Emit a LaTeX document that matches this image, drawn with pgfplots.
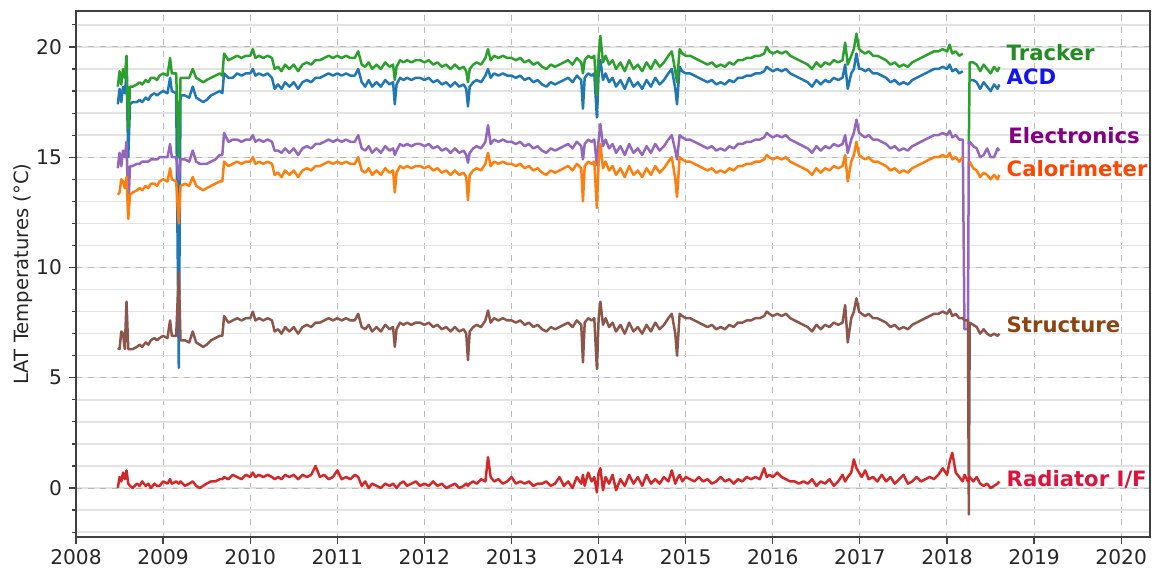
\documentclass[border=0pt]{standalone}
\usepackage{fontspec}
\setmainfont{DejaVu Sans}
\usepackage{pgfplots}
\usepackage{pgfplotstable}
\pgfplotsset{compat=1.18}

\definecolor{tabblue}{HTML}{1F77B4}
\definecolor{taborange}{HTML}{FF7F0E}
\definecolor{tabgreen}{HTML}{2CA02C}
\definecolor{tabred}{HTML}{D62728}
\definecolor{tabpurple}{HTML}{9467BD}
\definecolor{tabbrown}{HTML}{8C564B}
\definecolor{lblgreen}{HTML}{228B22}
\definecolor{lblblue}{HTML}{1414F0}
\definecolor{lblpurple}{HTML}{800080}
\definecolor{lblorange}{HTML}{FF4500}
\definecolor{lblbrown}{HTML}{8B4513}
\definecolor{lblred}{HTML}{DC143C}

% t = year, T = Tracker, A = ACD, E = Electronics, C = Calorimeter, S = Structure, R = Radiator I/F
\pgfplotstableread{
t T A E C S R
2008.48 18.2 17.4 14.5 13.3 6.35 0.0
2008.50 18.9 18.1 15.2 13.4 6.3 0.5
2008.52 18.3 17.5 14.6 14.0 7.1 0.3
2008.54 19.0 18.2 15.3 13.9 7.0 0.7
2008.56 18.6 17.9 15.0 13.6 6.3 0.4
2008.58 19.6 18.8 15.7 14.1 8.45 0.8
2008.60 16.3 15.0 12.6 12.2 6.3 0.2
2008.62 18.2 17.4 14.6 13.3 6.3 0.1
2008.65 18.2 17.5 14.6 13.4 6.3 0.0
2008.70 18.3 17.5 14.7 13.5 6.4 0.2
2008.73 18.4 17.6 14.7 13.6 6.5 0.1
2008.76 18.3 17.5 14.8 13.5 6.4 0.3
2008.80 18.5 17.7 14.8 13.7 6.6 0.1
2008.83 18.4 17.6 14.8 13.6 6.5 0.2
2008.86 18.6 17.8 14.9 13.8 6.7 0.0
2008.90 18.6 17.9 14.9 13.8 6.8 0.2
2008.93 18.5 17.8 14.9 13.7 6.7 0.1
2008.96 18.7 17.9 15.0 13.9 6.8 0.1
2009.00 18.8 18.0 15.0 14.0 6.9 0.3
2009.05 18.7 17.9 15.0 13.9 6.8 0.2
2009.08 19.5 18.6 15.6 14.5 7.6 0.4
2009.10 18.8 18.0 15.0 14.0 6.9 0.2
2009.15 18.8 17.9 15.0 13.9 6.9 0.3
2009.18 15.0 5.45 14.0 12.0 9.8 0.2
2009.20 18.6 17.8 14.9 13.7 6.7 0.3
2009.25 18.6 17.8 14.9 13.8 6.7 0.1
2009.30 18.6 17.7 14.8 13.7 6.6 0.2
2009.34 19.0 18.2 15.3 14.1 7.1 0.3
2009.38 18.6 17.7 14.8 13.7 6.6 0.1
2009.42 18.5 17.6 14.7 13.6 6.5 0.0
2009.46 18.4 17.5 14.7 13.5 6.4 0.1
2009.50 18.5 17.6 14.7 13.6 6.5 0.2
2009.55 18.6 17.8 14.8 13.7 6.7 0.3
2009.60 18.7 17.9 14.9 13.8 6.8 0.3
2009.65 18.8 18.0 15.1 13.9 6.9 0.4
2009.68 18.7 17.9 15.1 13.9 6.9 0.4
2009.70 19.7 18.8 16.1 14.8 7.8 0.5
2009.75 19.4 18.6 15.7 14.6 7.5 0.4
2009.80 19.5 18.6 15.8 14.7 7.6 0.6
2009.85 19.6 18.8 15.8 14.8 7.7 0.5
2009.90 19.5 18.7 15.7 14.7 7.6 0.4
2009.95 19.6 18.8 15.8 14.8 7.7 0.6
2010.00 19.6 18.8 15.8 14.8 7.7 0.5
2010.03 19.9 19.0 16.0 15.0 8.0 0.7
2010.06 19.5 18.7 15.7 14.7 7.6 0.5
2010.10 19.6 18.8 15.8 14.8 7.7 0.6
2010.15 19.5 18.7 15.7 14.7 7.6 0.5
2010.20 19.6 18.8 15.8 14.8 7.7 0.6
2010.25 19.5 18.6 15.7 14.7 7.6 0.5
2010.28 19.0 18.1 15.3 14.2 7.1 0.4
2010.32 19.1 18.3 15.3 14.3 7.2 0.5
2010.36 18.9 18.1 15.2 14.1 7.0 0.4
2010.40 19.2 18.4 15.4 14.4 7.3 0.6
2010.45 19.0 18.2 15.2 14.2 7.1 0.5
2010.50 19.2 18.4 15.4 14.4 7.3 0.6
2010.55 18.9 18.1 15.1 14.1 7.0 0.4
2010.60 19.2 18.4 15.4 14.4 7.3 0.6
2010.65 19.3 18.5 15.5 14.5 7.4 0.5
2010.70 19.2 18.4 15.4 14.4 7.3 0.6
2010.75 19.4 18.6 15.6 14.6 7.5 1.0
2010.80 19.4 18.6 15.6 14.6 7.5 0.5
2010.85 19.5 18.7 15.7 14.7 7.6 0.6
2010.90 19.6 18.8 15.8 14.8 7.7 0.4
2010.95 19.5 18.7 15.7 14.7 7.6 0.5
2011.00 19.6 18.8 15.8 14.8 7.7 0.8
2011.05 19.5 18.7 15.7 14.7 7.6 0.4
2011.10 19.6 18.8 15.8 14.8 7.7 0.5
2011.15 19.5 18.7 15.7 14.7 7.6 0.4
2011.20 19.5 18.7 15.7 14.7 7.6 0.6
2011.24 19.8 19.0 16.0 15.0 7.9 0.5
2011.28 19.2 18.4 15.4 14.4 7.3 0.1
2011.32 19.1 18.2 15.3 14.3 7.2 0.3
2011.36 19.3 18.5 15.5 14.5 7.4 0.0
2011.40 19.0 18.2 15.2 14.2 7.1 0.2
2011.45 19.2 18.4 15.4 14.4 7.3 0.1
2011.50 19.0 18.2 15.2 14.2 7.1 0.0
2011.55 19.3 18.5 15.5 14.5 7.4 0.2
2011.60 19.1 18.3 15.3 14.3 7.2 0.1
2011.64 19.2 18.4 15.4 14.4 7.3 0.2
2011.66 18.5 17.4 15.1 13.4 6.4 0.1
2011.68 19.1 18.3 15.3 14.3 7.2 0.0
2011.72 19.4 18.6 15.6 14.6 7.5 0.2
2011.76 19.3 18.5 15.5 14.5 7.4 0.3
2011.80 19.4 18.6 15.6 14.6 7.5 0.1
2011.85 19.3 18.5 15.5 14.5 7.4 0.2
2011.90 19.4 18.6 15.6 14.6 7.5 0.3
2011.95 19.4 18.6 15.6 14.6 7.5 0.1
2012.00 19.3 18.5 15.5 14.5 7.4 0.2
2012.05 19.4 18.6 15.6 14.6 7.5 0.1
2012.10 19.2 18.4 15.4 14.4 7.3 0.3
2012.15 19.3 18.5 15.5 14.5 7.4 0.1
2012.20 19.1 18.3 15.3 14.3 7.2 0.2
2012.25 19.2 18.4 15.4 14.4 7.3 0.0
2012.30 19.0 18.2 15.2 14.2 7.1 0.1
2012.35 19.2 18.4 15.4 14.4 7.3 0.2
2012.40 19.0 18.2 15.2 14.2 7.1 0.0
2012.45 19.1 18.3 15.3 14.3 7.2 0.1
2012.48 18.9 18.1 15.1 14.1 7.0 0.2
2012.50 18.4 17.3 14.75 13.05 5.8 0.1
2012.52 19.0 18.2 15.2 14.2 7.1 0.2
2012.56 19.2 18.4 15.4 14.4 7.3 0.3
2012.60 19.3 18.5 15.5 14.5 7.4 0.2
2012.65 19.2 18.4 15.4 14.4 7.3 0.4
2012.70 19.5 18.7 15.7 14.7 7.6 0.3
2012.73 19.9 19.0 16.45 15.2 8.05 1.4
2012.76 19.4 18.6 15.6 14.6 7.5 0.5
2012.80 19.6 18.8 15.8 14.8 7.7 0.3
2012.85 19.5 18.7 15.7 14.7 7.6 0.4
2012.90 19.6 18.8 15.8 14.8 7.7 0.2
2012.95 19.5 18.7 15.7 14.7 7.6 0.3
2013.00 19.5 18.7 15.7 14.7 7.6 0.5
2013.05 19.4 18.6 15.6 14.6 7.5 0.2
2013.10 19.5 18.7 15.7 14.7 7.6 0.3
2013.15 19.3 18.5 15.5 14.5 7.4 0.2
2013.20 19.4 18.6 15.6 14.6 7.5 0.3
2013.25 19.2 18.4 15.4 14.4 7.3 0.1
2013.30 19.3 18.5 15.5 14.5 7.4 0.2
2013.35 19.1 18.3 15.3 14.3 7.2 0.2
2013.40 19.0 18.2 15.2 14.2 7.1 0.3
2013.45 19.2 18.4 15.4 14.4 7.3 0.1
2013.50 19.1 18.3 15.3 14.3 7.2 0.2
2013.55 19.2 18.4 15.4 14.4 7.3 0.5
2013.60 19.3 18.5 15.5 14.5 7.4 0.1
2013.65 19.4 18.6 15.6 14.6 7.5 0.3
2013.70 19.2 18.4 15.4 14.4 7.3 0.0
2013.75 19.5 18.7 15.7 14.7 7.6 0.5
2013.80 19.3 18.5 15.5 14.5 7.4 0.2
2013.82 18.8 17.2 14.9 13.0 5.7 0.6
2013.84 19.4 18.6 15.6 14.6 7.5 0.1
2013.88 19.6 18.8 15.8 14.8 7.7 0.7
2013.92 19.5 18.7 15.7 14.7 7.6 0.3
2013.95 19.6 18.8 15.8 14.8 7.7 0.5
2013.98 17.8 16.8 14.65 12.7 5.4 -0.2
2014.00 19.6 18.8 15.8 14.8 7.7 0.7
2014.02 20.5 19.4 16.5 15.6 8.45 0.9
2014.05 19.3 18.5 15.5 14.5 7.4 -0.1
2014.08 19.6 18.8 15.8 14.8 7.7 0.5
2014.12 19.2 18.4 15.4 14.4 7.3 0.2
2014.16 19.4 18.6 15.6 14.6 7.5 0.6
2014.20 19.0 18.2 15.2 14.2 7.1 -0.1
2014.25 19.3 18.5 15.5 14.5 7.4 0.4
2014.30 18.9 18.1 15.1 14.1 7.0 0.1
2014.35 19.4 18.6 15.6 14.6 7.5 0.6
2014.40 19.0 18.2 15.2 14.2 7.1 0.2
2014.45 19.2 18.4 15.4 14.4 7.3 0.5
2014.50 18.9 18.1 15.1 14.1 7.0 0.1
2014.55 19.3 18.5 15.5 14.5 7.4 0.6
2014.60 19.0 18.2 15.2 14.2 7.1 0.2
2014.65 19.4 18.6 15.6 14.6 7.5 0.4
2014.70 19.1 18.3 15.3 14.3 7.2 0.2
2014.75 19.3 18.5 15.5 14.5 7.4 0.5
2014.80 19.6 18.8 15.8 14.8 7.7 0.3
2014.84 19.8 19.0 16.0 15.0 7.9 0.8
2014.88 18.9 18.1 15.3 14.0 7.0 0.2
2014.90 18.4 17.4 14.9 13.2 6.0 0.4
2014.93 19.9 19.1 16.0 15.0 7.9 0.6
2014.96 19.7 18.9 15.9 14.9 7.8 0.3
2015.00 19.6 18.8 15.8 14.8 7.7 0.5
2015.05 19.6 18.8 15.8 14.8 7.7 0.4
2015.10 19.5 18.7 15.7 14.7 7.6 0.3
2015.15 19.4 18.6 15.6 14.6 7.5 0.5
2015.20 19.3 18.5 15.5 14.5 7.4 0.3
2015.25 19.2 18.4 15.4 14.4 7.3 0.4
2015.30 19.3 18.5 15.5 14.5 7.4 0.2
2015.35 19.1 18.3 15.3 14.3 7.2 0.3
2015.40 19.2 18.4 15.4 14.4 7.3 0.5
2015.45 19.1 18.3 15.3 14.3 7.2 0.3
2015.50 19.3 18.5 15.5 14.5 7.4 0.4
2015.55 19.2 18.4 15.4 14.4 7.3 0.2
2015.60 19.4 18.6 15.6 14.6 7.5 0.4
2015.65 19.4 18.6 15.6 14.6 7.5 0.3
2015.70 19.5 18.7 15.7 14.7 7.6 0.5
2015.75 19.5 18.7 15.7 14.7 7.6 0.4
2015.80 19.6 18.8 15.8 14.8 7.7 0.5
2015.85 19.6 18.8 15.8 14.8 7.7 0.4
2015.90 19.7 18.9 15.9 14.9 7.8 0.9
2015.93 20.0 19.1 16.1 15.1 8.0 0.5
2015.96 19.8 19.0 16.0 15.0 7.9 0.6
2016.00 19.7 18.9 15.9 14.9 7.8 0.5
2016.05 19.8 19.0 16.0 15.0 7.9 0.7
2016.10 19.7 18.9 15.9 14.9 7.8 0.5
2016.15 19.8 19.0 16.0 15.0 7.9 0.4
2016.20 19.6 18.8 15.8 14.8 7.7 0.3
2016.25 19.5 18.7 15.7 14.7 7.6 0.3
2016.30 19.4 18.6 15.6 14.6 7.5 0.2
2016.35 19.3 18.5 15.5 14.5 7.4 0.3
2016.40 19.2 18.4 15.4 14.4 7.3 0.2
2016.45 19.0 18.2 15.2 14.2 7.1 0.4
2016.50 19.3 18.5 15.5 14.5 7.4 0.1
2016.55 19.1 18.3 15.3 14.3 7.2 0.3
2016.60 19.3 18.5 15.5 14.5 7.4 0.2
2016.65 19.2 18.4 15.4 14.4 7.3 0.4
2016.70 19.4 18.6 15.6 14.6 7.5 0.1
2016.75 19.3 18.5 15.5 14.5 7.4 0.3
2016.80 19.4 18.6 15.6 14.6 7.5 0.6
2016.83 20.2 19.2 16.0 15.1 8.3 0.3
2016.86 19.2 18.1 15.2 13.9 6.6 0.5
2016.90 19.6 18.8 15.8 14.8 7.7 0.7
2016.93 19.9 19.0 16.1 15.1 8.0 1.3
2016.96 20.6 19.7 16.7 15.7 8.6 0.9
2016.99 19.9 19.0 16.1 15.1 8.0 0.7
2017.02 19.8 19.0 16.0 15.0 7.9 0.5
2017.06 19.7 18.9 15.9 14.9 7.8 0.8
2017.10 19.8 19.0 16.0 15.0 7.9 0.4
2017.15 19.6 18.8 15.8 14.8 7.7 0.5
2017.20 19.6 18.8 15.8 14.8 7.7 0.3
2017.25 19.5 18.7 15.7 14.7 7.6 0.6
2017.30 19.4 18.6 15.6 14.6 7.5 0.3
2017.35 19.2 18.4 15.4 14.4 7.3 0.5
2017.40 19.3 18.5 15.5 14.5 7.4 0.2
2017.45 19.1 18.3 15.3 14.3 7.2 0.4
2017.50 19.2 18.4 15.4 14.4 7.3 0.6
2017.55 19.1 18.3 15.3 14.3 7.2 0.2
2017.60 19.3 18.5 15.5 14.5 7.4 0.3
2017.65 19.4 18.6 15.6 14.6 7.5 0.5
2017.70 19.5 18.7 15.7 14.7 7.6 0.3
2017.75 19.6 18.8 15.8 14.8 7.7 0.4
2017.80 19.7 18.9 15.9 14.9 7.8 0.5
2017.85 19.8 19.0 16.0 15.0 7.9 0.4
2017.90 19.8 19.0 16.0 15.0 7.9 0.6
2017.95 19.9 19.1 16.1 15.1 8.0 0.9
2018.00 19.8 19.0 16.0 15.0 7.9 0.6
2018.03 20.1 19.2 16.2 15.2 8.1 1.2
2018.06 19.7 18.9 15.9 14.9 7.8 1.6
2018.10 19.8 19.0 16.0 15.0 7.9 0.7
2018.14 19.6 18.8 15.8 14.8 7.7 0.5
2018.18 19.7 18.9 15.8 15.0 7.7 0.3
2018.20 nan nan 7.2 nan 7.6 0.6
2018.24 nan nan 7.2 nan 7.6 0.3
2018.25 15.6 nan 15.7 nan -1.2 0.4
2018.26 19.3 18.5 15.7 14.8 7.5 0.5
2018.30 19.3 18.5 15.5 14.5 7.4 0.3
2018.34 19.2 18.4 15.4 14.4 7.3 0.5
2018.38 18.9 18.1 15.0 14.1 7.0 0.2
2018.42 19.2 18.4 15.1 14.3 7.2 0.1
2018.46 19.0 18.2 15.4 14.2 7.0 0.2
2018.50 18.8 18.0 15.0 14.0 6.9 0.0
2018.54 19.1 18.3 15.0 14.2 7.0 0.1
2018.58 18.9 18.1 15.4 14.0 6.9 0.2
2018.60 19.1 18.3 15.3 14.2 7.0 0.3
}\lattemps

\begin{document}
\begin{tikzpicture}
\begin{axis}[
    scale only axis,
    width=537pt, height=263pt,
    xmin=2008, xmax=2020.33,
    ymin=-2.22, ymax=21.63,
    xtick={2008,2009,...,2020},
    ytick={0,5,10,15,20},
    minor ytick={-2,-1,...,21},
    x tick label style={/pgf/number format/1000 sep={}, yshift=1pt},
    /pgf/number format/assume math mode=true,
    tick label style={font=\fontsize{10.1}{11}\selectfont, text=black!85},
    tick align=outside, tick pos=left,
    major tick length=3.5pt, minor tick length=2pt,
    every tick/.style={black!75, line width=0.6pt},
    axis line style={black!75, line width=0.8pt},
    grid=both,
    major grid style={dashed, gray!55, line width=0.5pt},
    minor grid style={solid, gray!22, line width=0.7pt},
    ylabel={LAT Temperatures (°C)},
    every axis y label/.style={at={(axis description cs:-0.0493,0.5)}, rotate=90, anchor=center,
        font=\fontsize{9.8}{11}\selectfont, text=black!85},
    unbounded coords=jump,
    every axis plot/.append style={line width=1.25pt, line join=round},
]
\addplot[tabblue] table[x=t, y=A] {\lattemps};
\addplot[tabgreen] table[x=t, y=T] {\lattemps};
\addplot[tabpurple] table[x=t, y=E] {\lattemps};
\addplot[taborange] table[x=t, y=C] {\lattemps};
\addplot[tabbrown] table[x=t, y=S] {\lattemps};
\addplot[tabred] table[x=t, y=R] {\lattemps};

\begin{scope}[every node/.style={anchor=west, inner sep=0pt, font=\bfseries\fontsize{10.6}{12}\selectfont}]
\node[text=lblgreen] at (axis cs:2018.68,19.73) {Tracker};
\node[text=lblblue] at (axis cs:2018.68,18.64) {ACD};
\node[text=lblpurple] at (axis cs:2018.70,15.96) {Electronics};
\node[text=lblorange] at (axis cs:2018.68,14.47) {Calorimeter};
\node[text=lblbrown] at (axis cs:2018.68,7.39) {Structure};
\node[text=lblred] at (axis cs:2018.68,0.41) {Radiator I/F};
\end{scope}
\end{axis}
\pgfresetboundingbox
\path[use as bounding box] ([shift={(-38pt,-15pt)}]current axis.south west) rectangle ([shift={(1.5pt,5.5pt)}]current axis.north east);
\end{tikzpicture}
\end{document}
